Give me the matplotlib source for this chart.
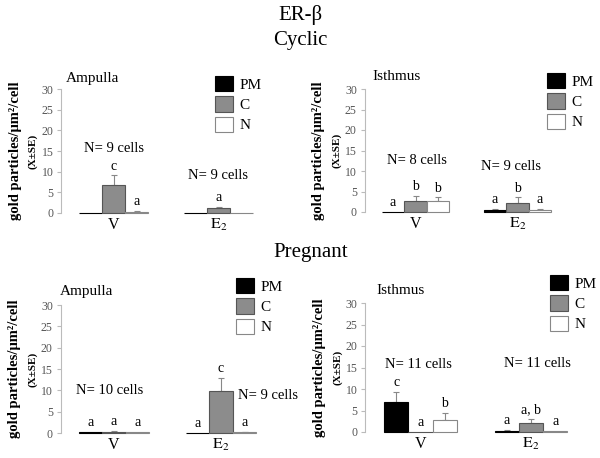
import numpy as np
import matplotlib
matplotlib.use("Agg")
import matplotlib.pyplot as plt

plt.rcParams['font.family'] = ['Liberation Serif', 'DejaVu Serif']
plt.rcParams['mathtext.fontset'] = 'stix'

groups = ['V', r'$\mathrm{E}_2$']
compartments = ['PM', 'C', 'N']

# mean gold particles/um2/cell, [V, E2] x [PM, C, N]
cyc_amp_mean = [[0.05, 6.8, 0.35], [0.05, 1.1, 0.05]]
cyc_amp_se = [[0.0, 2.3, 0.1], [0.0, 0.3, 0.0]]
cyc_amp_letters = [['', 'c', 'a'], ['', 'a', '']]
cyc_amp_n = [9, 9]

cyc_ist_mean = [[0.1, 2.7, 2.6], [0.6, 2.3, 0.5]]
cyc_ist_se = [[0.0, 1.2, 1.0], [0.2, 1.3, 0.2]]
cyc_ist_letters = [['a', 'b', 'b'], ['a', 'b', 'a']]
cyc_ist_n = [8, 9]

prg_amp_mean = [[0.2, 0.3, 0.2], [0.05, 9.8, 0.2]]
prg_amp_se = [[0.0, 0.1, 0.0], [0.0, 3.2, 0.1]]
prg_amp_letters = [['a', 'a', 'a'], ['a', 'c', 'a']]
prg_amp_n = [10, 9]

prg_ist_mean = [[6.9, 0.1, 2.7], [0.3, 2.0, 0.15]]
prg_ist_se = [[2.4, 0.0, 1.8], [0.1, 0.95, 0.0]]
prg_ist_letters = [['c', 'a', 'b'], ['a', 'a, b', 'a']]
prg_ist_n = [11, 11]

face = ['#000000', '#8c8c8c', '#ffffff']
edge = ['#000000', '#555555', '#888888']
W, H = 600, 458

fig = plt.figure(figsize=(6, 4.58), dpi=100)


def px_axes(c0, sp, y0, y30):
    left = c0 - 0.5 * sp
    width = 1.95 * sp
    return fig.add_axes([left / W, 1 - y0 / H, width / W, (y0 - y30) / H])


def panel(ax, mean, se, letters, ncells, npos, title, tpos, legpos):
    mean = np.array(mean)
    se = np.array(se)
    w = 0.22
    x = np.arange(len(groups))
    bars = []
    for j in range(3):
        xs = x + (j - 1) * w
        b = ax.bar(xs, mean[:, j], width=w, color=face[j], edgecolor=edge[j],
                   linewidth=0.8, label=compartments[j], clip_on=False, zorder=2)
        bars.append(b)
        for i in range(len(groups)):
            if se[i, j] > 0:
                ax.errorbar(xs[i], mean[i, j], yerr=[[0], [se[i, j]]], fmt='none',
                            ecolor='#888888', elinewidth=0.8, capsize=2, capthick=0.8, zorder=1)
            if letters[i][j]:
                ax.text(xs[i], mean[i, j] + se[i, j] + 1.4, letters[i][j], ha='center',
                        va='baseline', fontsize=10)
    for i in range(len(groups)):
        nx, ny, ha = npos[i]
        ax.text(nx, ny, 'N= %d cells' % ncells[i], ha=ha, va='center', fontsize=10.5,
                clip_on=False)
    ax.set_xlim(-0.5, 1.45)
    ax.set_ylim(0, 30)
    ax.set_yticks(range(0, 31, 5))
    for s in ['top', 'right', 'bottom']:
        ax.spines[s].set_visible(False)
    ax.spines['left'].set_color('#bbbbbb')
    ax.spines['left'].set_linewidth(0.8)
    ax.tick_params(axis='y', colors='#bbbbbb', labelcolor='#555555', labelsize=8.5,
                   length=3, width=0.8, pad=2.5)
    ax.set_xticks(x)
    ax.set_xticklabels(groups, fontsize=11.5)
    ax.tick_params(axis='x', length=0, pad=3)
    ax.patch.set_visible(False)
    fig.text(tpos[0] / W, 1 - tpos[1] / H, title, ha='left', va='center', fontsize=11)
    ax.legend(handles=bars, loc='upper left', bbox_to_anchor=(legpos[0] / W, 1 - legpos[1] / H),
              bbox_transform=fig.transFigure, frameon=False, borderpad=0, borderaxespad=0,
              handlelength=1.15, handleheight=1.15, labelspacing=0.3, handletextpad=0.45,
              fontsize=11)
    # y label
    bb = ax.get_position()
    yc = (bb.y0 + bb.y1) / 2
    fig.text(bb.x0 - 46 / W, yc, 'gold particles/\u03bcm\u00b2/cell', rotation=90,
             ha='center', va='center', fontsize=10.5, fontweight='bold')
    fig.text(bb.x0 - 28 / W, yc, '(X\u00b1SE)', rotation=90, ha='center', va='center',
             fontsize=8, fontweight='bold')


ax1 = px_axes(113.5, 105, 213, 89)
panel(ax1, cyc_amp_mean, cyc_amp_se, cyc_amp_letters, cyc_amp_n,
      [(0, 15.6, 'center'), (1, 9.1, 'center')], 'Ampulla', (66, 78), (215, 76))

ax2 = px_axes(415.5, 102, 212, 89)
panel(ax2, cyc_ist_mean, cyc_ist_se, cyc_ist_letters, cyc_ist_n,
      [(0.01, 12.5, 'center'), (0.94, 11.0, 'center')], 'Isthmus', (372, 76), (547, 73))

ax3 = px_axes(114, 107, 433, 305)
panel(ax3, prg_amp_mean, prg_amp_se, prg_amp_letters, prg_amp_n,
      [(-0.04, 9.9, 'center'), (1.16, 8.9, 'left')], 'Ampulla', (60, 292), (236, 278))

ax4 = px_axes(420.5, 110.5, 432, 303)
panel(ax4, prg_ist_mean, prg_ist_se, prg_ist_letters, prg_ist_n,
      [(-0.02, 15.8, 'center'), (1.06, 16.0, 'center')], 'Isthmus', (376, 290), (550, 275))

fig.text(0.5, 1 - 15 / H, 'ER-\u03b2', ha='center', va='center', fontsize=15)
fig.text(0.5, 1 - 41 / H, 'Cyclic', ha='center', va='center', fontsize=15)
fig.text(311 / W, 1 - 253 / H, 'Pregnant', ha='center', va='center', fontsize=15)

fig.savefig('out.png', dpi=100)
